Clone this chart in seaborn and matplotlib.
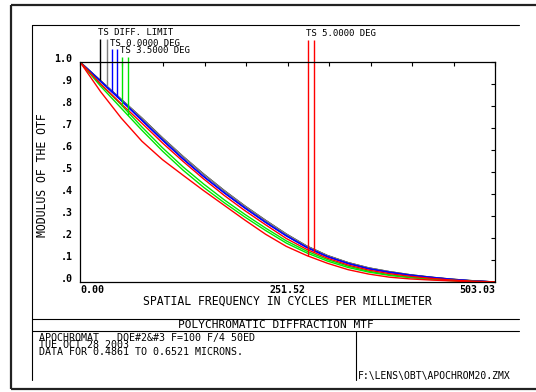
import numpy as np
import pandas as pd
import matplotlib
matplotlib.use("Agg")
import matplotlib.pyplot as plt
import seaborn as sns
from matplotlib.transforms import ScaledTranslation

# ---------------- data ----------------
freq = [0, 25, 50, 75, 100, 125, 150, 175, 200, 225, 250, 275, 300, 325, 350,
        375, 400, 425, 450, 475, 503.03]
diff_limit_t = [1.0, 0.915, 0.83, 0.745, 0.655, 0.57, 0.49, 0.415, 0.345, 0.28, 0.218,
                0.163, 0.12, 0.088, 0.064, 0.047, 0.033, 0.022, 0.013, 0.006, 0.0]
diff_limit_s = [1.0, 0.915, 0.83, 0.745, 0.655, 0.57, 0.49, 0.415, 0.345, 0.28, 0.218,
                0.163, 0.12, 0.088, 0.064, 0.047, 0.033, 0.022, 0.013, 0.006, 0.0]
field0_t = [1.0, 0.912, 0.825, 0.735, 0.645, 0.559, 0.479, 0.405, 0.336, 0.271, 0.21,
            0.157, 0.115, 0.084, 0.06, 0.044, 0.031, 0.021, 0.012, 0.005, 0.0]
field0_s = [1.0, 0.912, 0.825, 0.735, 0.645, 0.559, 0.479, 0.405, 0.336, 0.271, 0.21,
            0.157, 0.115, 0.084, 0.06, 0.044, 0.031, 0.021, 0.012, 0.005, 0.0]
field35_t = [1.0, 0.9, 0.805, 0.705, 0.61, 0.523, 0.445, 0.373, 0.307, 0.245, 0.187,
             0.14, 0.102, 0.072, 0.049, 0.033, 0.022, 0.014, 0.008, 0.003, 0.0]
field35_s = [1.0, 0.89, 0.79, 0.69, 0.595, 0.508, 0.43, 0.36, 0.295, 0.234, 0.177,
             0.132, 0.095, 0.066, 0.045, 0.03, 0.02, 0.012, 0.006, 0.002, 0.0]
field5_t = [1.0, 0.865, 0.745, 0.64, 0.556, 0.485, 0.415, 0.348, 0.281, 0.217, 0.162,
            0.12, 0.085, 0.056, 0.036, 0.022, 0.014, 0.009, 0.005, 0.001, 0.0]
field5_s = [1.0, 0.9, 0.81, 0.722, 0.632, 0.548, 0.468, 0.393, 0.324, 0.26, 0.198,
            0.148, 0.108, 0.077, 0.054, 0.038, 0.026, 0.017, 0.009, 0.004, 0.0]

series_names = ["DIFF T", "DIFF S", "0.0 T", "0.0 S", "3.5 T", "3.5 S", "5.0 T", "5.0 S"]
series_values = [diff_limit_t, diff_limit_s, field0_t, field0_s,
                 field35_t, field35_s, field5_t, field5_s]
series_colors = ["#000000", "#7f7f7f", "#0000ff", "#0000ff",
                 "#00e600", "#00e600", "#ff0000", "#ff0000"]
# frequency at which each series' label leader line meets its curve
marker_freqs = [24.2, 32.7, 38.8, 44.8, 50.9, 58.2, 276.4, 283.6]

legend_texts = ["TS DIFF. LIMIT", "TS 0.0000 DEG", "TS 3.5000 DEG", "TS 5.0000 DEG"]

xtick_values = [0, 50.303, 100.606, 150.909, 201.212, 251.52, 301.818, 352.121,
                402.424, 452.727, 503.03]
xtick_labels = ["0.00", "", "", "", "", "251.52", "", "", "", "", "503.03"]
ytick_values = [0.0, 0.1, 0.2, 0.3, 0.4, 0.5, 0.6, 0.7, 0.8, 0.9, 1.0]
ytick_labels = [".0", ".1", ".2", ".3", ".4", ".5", ".6", ".7", ".8", ".9", "1.0"]

x_label = "SPATIAL FREQUENCY IN CYCLES PER MILLIMETER"
y_label = "MODULUS OF THE OTF"
title_text = "POLYCHROMATIC DIFFRACTION MTF"
info_lines = ["APOCHROMAT   DOE#2&#3 F=100 F/4 50ED",
              "TUE OCT 28 2003",
              "DATA FOR 0.4861 TO 0.6521 MICRONS."]
file_text = "F:\\LENS\\OBT\\APOCHROM20.ZMX"

# ---------------- style ----------------
sns.set_style("white")
MONO = "DejaVu Sans Mono"
plt.rcParams["font.family"] = [MONO, "DejaVu Sans"]
plt.rcParams["text.color"] = "black"
plt.rcParams["axes.labelcolor"] = "black"
plt.rcParams["xtick.color"] = "black"
plt.rcParams["ytick.color"] = "black"

W, H = 536, 392
fig = plt.figure(figsize=(W / 100, H / 100), dpi=100)

# overlay in pixel coordinates for the page frame
ov = fig.add_axes([0, 0, 1, 1], zorder=0)
ov.set_xlim(0, W)
ov.set_ylim(H, 0)
ov.axis("off")
ov.patch.set_alpha(0)

# outer thick border (right side falls outside the picture)
ov.plot([11, 540], [5, 5], color="#222222", lw=1.6, solid_capstyle="butt")
ov.plot([11, 540], [389, 389], color="#222222", lw=1.6, solid_capstyle="butt")
ov.plot([11, 11], [5, 389], color="#222222", lw=1.6, solid_capstyle="butt")
# inner frame
ov.plot([32, 519], [25, 25], color="black", lw=0.8)
ov.plot([32, 32], [25, 380], color="black", lw=0.8)
ov.plot([32, 519], [319, 319], color="black", lw=0.8)
ov.plot([32, 519], [331, 331], color="black", lw=0.8)
ov.plot([356, 356], [331, 380], color="black", lw=0.8)

ov.text(276, 325.5, title_text, ha="center", va="center", fontsize=8.0,
        family=MONO, color="black")
ov.text(39, 332.5, "\n".join(info_lines), ha="left", va="top", fontsize=7.2,
        family=MONO, linespacing=0.66, color="black")
ov.text(358, 376, file_text, ha="left", va="center", fontsize=7.0, family=MONO,
        color="black")

# main axes
ax = fig.add_axes([80 / W, 1 - 282 / H, 415 / W, 220 / H], zorder=1)

rows = []
for name, vals in zip(series_names, series_values):
    for f, v in zip(freq, vals):
        rows.append({"freq": f, "mtf": v, "series": name})
df = pd.DataFrame(rows)
palette = dict(zip(series_names, series_colors))
sns.lineplot(data=df, x="freq", y="mtf", hue="series", hue_order=series_names,
             palette=palette, estimator=None, sort=False, legend=False, lw=1.0, ax=ax)

ax.set_xlim(0, 503.03)
ax.set_ylim(0, 1.0)
ax.set_xticks(xtick_values)
ax.set_xticklabels(xtick_labels, fontsize=7.2, family=MONO, fontweight="bold")
ax.set_yticks(ytick_values)
ax.set_yticklabels(ytick_labels, fontsize=7.2, family=MONO, fontweight="bold")
ax.tick_params(direction="in", length=3.2, width=0.8, top=True, right=True,
               labeltop=False, labelright=False, color="black", labelcolor="black")
ax.tick_params(axis="x", pad=2.5)
ax.tick_params(axis="y", pad=5.5)
xl = ax.get_xticklabels()
xl[0].set_ha("left")
xl[-1].set_ha("right")
for lab in ax.get_yticklabels():
    lab.set_transform(lab.get_transform() + ScaledTranslation(0, 0.045, fig.dpi_scale_trans))
for sp in ax.spines.values():
    sp.set_color("black")
    sp.set_linewidth(0.9)

ax.set_xlabel(x_label, fontsize=8.3, family=MONO, color="black")
ax.set_ylabel(y_label, fontsize=8.3, family=MONO, color="black")
ax.xaxis.set_label_coords(0.5, -0.058)
ax.yaxis.set_label_coords(-0.075, 0.485)

# leader lines for the labels (tops in pixel layout)
leader_tops = [1.105, 1.105, 1.059, 1.059, 1.023, 1.023, 1.1, 1.1]
for f, vals, col, top in zip(marker_freqs, series_values, series_colors, leader_tops):
    yv = float(np.interp(f, freq, vals))
    ax.vlines(f, yv, top, colors=col, lw=1.0, clip_on=False)

label_anchor = [(marker_freqs[0], leader_tops[0]), (marker_freqs[2], leader_tops[2]),
                (marker_freqs[4], leader_tops[4]), (marker_freqs[6], leader_tops[6])]
for txt, (fx, ty) in zip(legend_texts, label_anchor):
    ax.annotate(txt, xy=(fx, ty), xytext=(-2, 6), textcoords="offset pixels",
                ha="left", va="center", fontsize=6.5, family=MONO, color="black",
                annotation_clip=False)

fig.savefig("out.png", dpi=100)
